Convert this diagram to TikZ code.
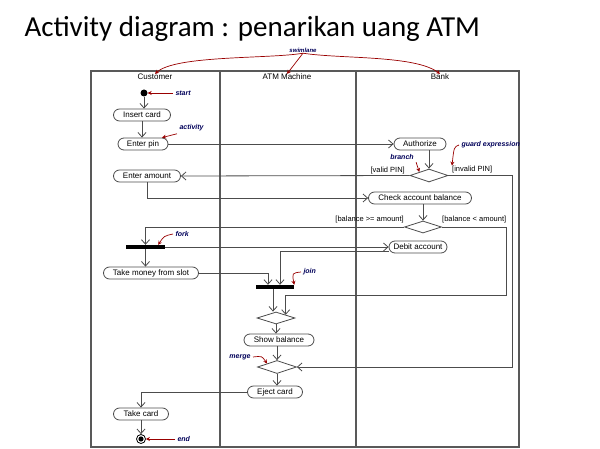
\documentclass[tikz,border=0pt]{standalone}
\usepackage{fontspec}
\setmainfont{Liberation Sans}
\newfontfamily\titlefont{Carlito}
\usetikzlibrary{arrows.meta,shapes.misc,shapes.geometric,positioning}

\begin{document}
\begin{tikzpicture}[x=1pt,y=-1pt,
  frame/.style={draw=black!65,line width=1.1pt},
  line/.style={draw=black!70,line width=0.8pt},
  flow/.style={line,-{Straight Barb[length=4.5pt,width=8pt]}},
  act/.style={rounded rectangle,draw=black!70,line width=0.8pt,minimum height=12pt,inner ysep=0pt,inner xsep=1pt,font=\fontsize{8}{9}\selectfont},
  branchbox/.style={diamond,draw=black!70,line width=0.8pt,minimum width=38pt,minimum height=13pt,inner sep=0pt},
  bar/.style={fill=black,minimum width=39pt,minimum height=4pt,inner sep=0pt},
  lane/.style={font=\fontsize{8}{9}\selectfont,inner sep=0pt},
  guard/.style={font=\fontsize{7.5}{9}\selectfont,inner sep=0pt},
  note/.style={font=\fontsize{7}{8}\selectfont\bfseries\itshape,text=blue!35!black,inner sep=0pt,outer sep=2.5pt},
  hint/.style={draw=red!60!black,line width=0.7pt,-{Stealth[length=4pt,width=4pt]}}]
\useasboundingbox (0,0) rectangle (600,449);
\node[anchor=base west,font=\titlefont\fontsize{29}{33}\selectfont] (title) at (21,37) {Activity diagram : penarikan uang ATM};

\draw[frame] (91,71) rectangle (519,447);
\foreach \x in {220,356}
    \draw[frame] (\x,71) -- (\x,447);
\foreach \x/\t/\n in {155/Customer/cust, 287/ATM Machine/atm, 440/Bank/bank}
    \node[lane] (\n) at (\x,77) {\t};

\node[circle,fill=black,minimum size=7pt,inner sep=0pt] (start) at (144,93) {};
\node[act,minimum width=59pt] (ins) at (142,115) {Insert card};
\node[act,minimum width=52pt] (pin) at (143,144) {Enter pin};
\node[act,minimum width=54pt] (auth) at (420,144) {Authorize};
\node[branchbox] (d1) at (429,175.5) {};
\node[act,minimum width=69pt] (amt) at (147,176) {Enter amount};
\node[act,minimum width=105pt] (chk) at (420,198) {Check account balance};
\node[branchbox,minimum width=37pt,minimum height=12pt] (d2) at (423,227) {};
\node[bar] (fork) at (145.5,247) {};
\node[act,minimum width=97pt] (money) at (151,273) {Take money from slot};
\node[act,minimum width=60pt] (debit) at (418,247) {Debit account};
\node[bar,minimum width=38pt] (join) at (275,287) {};
\node[branchbox,minimum height=12pt] (d3) at (276,318) {};
\node[act,minimum width=72pt] (show) at (279,340) {Show balance};
\node[branchbox,minimum width=39pt] (merge) at (277,367) {};
\node[act,minimum width=57pt] (eject) at (275,392) {Eject card};
\node[act,minimum width=57pt] (take) at (141,414) {Take card};
\node[circle,draw=black,line width=0.8pt,minimum size=9pt,inner sep=0pt] (stop) at (141,439) {};
\fill (stop) circle (2.6pt);

\node[guard,anchor=south east] (valid) at (405,174) {[valid PIN]};
\node[guard,anchor=south west] (invalid) at (452,173) {[invalid PIN]};
\node[guard,anchor=south east] (enough) at (404,223) {[balance >= amount]};
\node[guard,anchor=south west] (short) at (442,223) {[balance < amount]};

\draw[flow] (start) -- (start |- ins.north);
\draw[flow] (ins.south) -- (ins.south |- pin.north);
\draw[flow] (pin.east) -- (auth.west);
\draw[flow] (d1 |- auth.south) -- (d1.north);
\draw[flow] (d1.west) -- (amt.east);
\coordinate (r1) at (512,367);
\draw[flow] (d1.east) -| (r1) -- (merge.east);
\draw[flow] (amt.south) |- (chk.west);
\draw[flow] (d2 |- chk.south) -- (d2.north);
\draw[flow] (d2.west) -| (fork.north);
\coordinate (r2) at (506,295);
\draw[flow] (d2.east) -| (r2) -| (d3.north east);
\draw[flow] (fork.south) -- (fork.south |- money.north);
\draw[flow] (fork.east) -- (debit.west);
\draw[flow] ([yshift=-4pt]debit.west) -| ([xshift=5pt]join.north);
\draw[flow] (money.east) -| ([xshift=-7pt]join.north);
\draw[flow] ([xshift=-2pt]join.south) -- ([xshift=-2pt]join.south |- d3.north);
\draw[flow] (d3.south) -- (d3.south |- show.north);
\draw[flow] (merge |- show.south) -- (merge.north);
\draw[flow] (merge.south) -- (merge.south |- eject.north);
\draw[flow] (eject.west) -| (take.north);
\draw[flow] (take.south) -- (stop.north);

\node[note,font=\fontsize{6}{7}\selectfont\bfseries\itshape,outer sep=1pt] (swim) at (303,50) {swimlane};
\node[note,anchor=west] (startnote) at (173,93) {start};
\node[note,anchor=west] (actnote) at (177,128) {activity};
\node[note] (branchnote) at (402,157) {branch};
\node[note,anchor=west] (guardnote) at (459,145) {guard expression};
\node[note,anchor=west] (forknote) at (173,234) {fork};
\node[note,anchor=west] (joinnote) at (301,272) {join};
\node[note,anchor=east] (mergenote) at (253,357) {merge};
\node[note,anchor=west] (endnote) at (175,439) {end};

\draw[hint] (swim.south) .. controls (270,59) and (175,55) .. (cust.north);
\draw[hint] (swim.south) -- (atm.north);
\draw[hint] (swim.south) .. controls (340,59) and (415,55) .. (bank.north);
\draw[hint] (startnote.west) -- (start.east);
\draw[hint] (actnote.south west) -- (pin.north east);
\draw[hint] (branchnote.south east) .. controls (416,162) .. (d1.north west);
\draw[hint] (guardnote.west) .. controls (454,147) .. (invalid.north west);
\draw[hint] (forknote.west) .. controls (164,236) .. ([xshift=-7pt]fork.north east);
\draw[hint] (joinnote.west) .. controls (292,273) .. (join.north east);
\draw[hint] (mergenote.east) .. controls (262,356) .. (merge.north west);
\draw[hint] (endnote.west) -- (stop.east);
\end{tikzpicture}
\end{document}
